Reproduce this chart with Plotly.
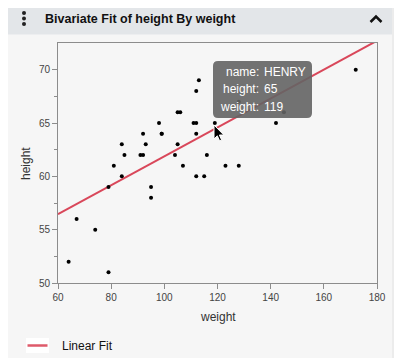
import numpy as np
import plotly.graph_objects as go

# ---- data (Big Class) ----
names = ["KATIE","LOUISE","JANE","JACLYN","LILLIE","TIM","JAMES","ROBERT","BARBARA","ALICE",
         "SUSAN","JOHN","JOE","MICHAEL","DAVID","JUDY","ELIZABETH","LESLIE","CAROL","PATTY",
         "FREDERICK","ALFRED","HENRY","LEWIS","EDWARD","CHRIS","JEFFREY","MARY","AMY","ROBERT",
         "WILLIAM","CLAY","MARK","DANNY","MARTHA","MARION","PHILLIP","LINDA","KIRK","LAWRENCE"]
height = [59,61,55,66,52,60,61,51,60,61,56,65,63,58,59,61,62,65,63,62,
          63,64,65,64,68,64,69,62,64,67,65,66,62,66,65,60,68,62,68,70]
weight = [95,123,74,145,64,84,128,79,112,107,67,98,105,95,79,81,91,142,84,85,
          93,99,119,92,112,99,113,92,112,128,111,105,104,106,112,115,128,116,134,172]
x_ticks = [60, 80, 100, 120, 140, 160, 180]
y_ticks = [50, 55, 60, 65, 70]
x_range = [60, 180]
y_range = [50, 72.5]
hover_name = "HENRY"
legend_label = "Linear Fit"
title_text = "Bivariate Fit of height By weight"

# ---- layout geometry (pixels in the 402x358 window) ----
OFF = 8  # default page body margin
W, H = 402 - OFF, 358 - OFF
L, R, T, B = 58, 377, 43, 283

def PX(x):
    return (x - L) / (R - L)

def PY(y):
    return (B - y) / (B - T)

FONT = "Liberation Sans"

slope, intercept = np.polyfit(weight, height, 1)
fit_x = np.array(x_range, dtype=float)
fit_y = intercept + slope * fit_x

fig = go.Figure()
fig.add_trace(go.Scatter(x=fit_x, y=fit_y, mode="lines",
                         line=dict(color="#d9475a", width=2), showlegend=False,
                         hoverinfo="skip"))
fig.add_trace(go.Scatter(x=weight, y=height, mode="markers",
                         marker=dict(color="black", size=4), showlegend=False,
                         text=names))

def rounded_rect(x0, y0, x1, y1, r, top_only=False):
    if top_only:
        s = (f"M {PX(x0)} {PY(y1)} L {PX(x0)} {PY(y0+r)} "
             f"Q {PX(x0)} {PY(y0)} {PX(x0+r)} {PY(y0)} "
             f"L {PX(x1-r)} {PY(y0)} Q {PX(x1)} {PY(y0)} {PX(x1)} {PY(y0+r)} "
             f"L {PX(x1)} {PY(y1)} Z")
    else:
        s = (f"M {PX(x0+r)} {PY(y0)} L {PX(x1-r)} {PY(y0)} "
             f"Q {PX(x1)} {PY(y0)} {PX(x1)} {PY(y0+r)} "
             f"L {PX(x1)} {PY(y1-r)} Q {PX(x1)} {PY(y1)} {PX(x1-r)} {PY(y1)} "
             f"L {PX(x0+r)} {PY(y1)} Q {PX(x0)} {PY(y1)} {PX(x0)} {PY(y1-r)} "
             f"L {PX(x0)} {PY(y0+r)} Q {PX(x0)} {PY(y0)} {PX(x0+r)} {PY(y0)} Z")
    return s

shapes = []
# card body
shapes.append(dict(type="path", xref="paper", yref="paper", layer="below",
                   path=rounded_rect(8, 3, 392, 362, 6, top_only=True),
                   fillcolor="#f6f6f6", line=dict(width=0)))
# card shadow right
shapes.append(dict(type="line", xref="paper", yref="paper", layer="below",
                   x0=PX(393), x1=PX(393), y0=PY(8), y1=PY(360),
                   line=dict(color="#ececec", width=2)))
# header
shapes.append(dict(type="path", xref="paper", yref="paper", layer="below",
                   path=rounded_rect(8, 3, 392, 34.5, 6, top_only=True),
                   fillcolor="#e3e6e9", line=dict(width=0)))
# kebab dots
for cy in (13, 18.5, 24):
    shapes.append(dict(type="circle", xref="paper", yref="paper", layer="above",
                       x0=PX(22), x1=PX(26), y0=PY(cy + 2), y1=PY(cy - 2),
                       fillcolor="#222222", line=dict(width=0)))
# caret
shapes.append(dict(type="path", xref="paper", yref="paper", layer="above",
                   path=f"M {PX(370.5)} {PY(22)} L {PX(376)} {PY(16.5)} L {PX(381.5)} {PY(22)}",
                   line=dict(color="#111111", width=2.5)))
# tooltip box
shapes.append(dict(type="path", xref="paper", yref="paper", layer="above",
                   path=rounded_rect(213, 61, 312, 118, 5),
                   fillcolor="rgba(100,100,100,0.9)", line=dict(width=0)))
# cursor arrow
cx, cy = 214, 125
pts = [(0, 0), (0, 14), (3.3, 10.8), (5.6, 15.8), (7.6, 14.9), (5.4, 10), (9.8, 10)]
cpath = "M " + " L ".join(f"{PX(cx+a)} {PY(cy+b)}" for a, b in pts) + " Z"
shapes.append(dict(type="path", xref="paper", yref="paper", layer="above",
                   path=cpath, fillcolor="black", line=dict(color="white", width=1)))
# legend box
shapes.append(dict(type="rect", xref="paper", yref="paper", layer="above",
                   x0=PX(26), x1=PX(49), y0=PY(353), y1=PY(338),
                   fillcolor="white", line=dict(width=0)))
shapes.append(dict(type="line", xref="paper", yref="paper", layer="above",
                   x0=PX(27.5), x1=PX(47.5), y0=PY(345.5), y1=PY(345.5),
                   line=dict(color="#de5a6a", width=2.5)))

annotations = []
annotations.append(dict(text=f"<b>{title_text}</b>", xref="paper", yref="paper",
                        x=PX(42.5), y=PY(18.5), xanchor="left", yanchor="middle",
                        showarrow=False, font=dict(family=FONT, size=12.5, color="#111111")))
annotations.append(dict(text="weight", xref="paper", yref="paper",
                        x=PX(217.5), y=PY(316.5), xanchor="center", yanchor="middle",
                        showarrow=False, font=dict(family=FONT, size=12, color="#333333")))
annotations.append(dict(text="height", xref="paper", yref="paper", textangle=-90,
                        x=PX(26), y=PY(164), xanchor="center", yanchor="middle",
                        showarrow=False, font=dict(family=FONT, size=12, color="#333333")))
annotations.append(dict(text=legend_label, xref="paper", yref="paper",
                        x=PX(59.5), y=PY(345.5), xanchor="left", yanchor="middle",
                        showarrow=False, font=dict(family=FONT, size=12, color="#111111")))
# tooltip text
hi = names.index(hover_name)
rows = [("name:", names[hi]), ("height:", str(height[hi])), ("weight:", str(weight[hi]))]
for i, (lab, val) in enumerate(rows):
    yy = 71.7 + i * 17.5
    annotations.append(dict(text=lab, xref="paper", yref="paper",
                            x=PX(260.5), y=PY(yy), xanchor="right", yanchor="middle",
                            showarrow=False, font=dict(family=FONT, size=12, color="white")))
    annotations.append(dict(text=val, xref="paper", yref="paper",
                            x=PX(261.5), y=PY(yy), xanchor="left", yanchor="middle",
                            showarrow=False, font=dict(family=FONT, size=12, color="white")))

axis_common = dict(showline=True, linecolor="#8c8c8c", linewidth=1, mirror=True,
                   showgrid=False, zeroline=False, ticks="outside", ticklen=5,
                   tickcolor="#8c8c8c", tickfont=dict(family=FONT, size=10, color="#444444"))

fig.update_layout(
    width=W, height=H,
    margin=dict(l=L - OFF, r=402 - R, t=T - OFF, b=358 - B, pad=0),
    paper_bgcolor="white", plot_bgcolor="white",
    font=dict(family=FONT),
    xaxis=dict(range=x_range, tickvals=x_ticks, **axis_common),
    yaxis=dict(range=y_range, tickvals=y_ticks,
               minor=dict(tickvals=[52.5, 57.5, 62.5, 67.5], ticks="outside", ticklen=3,
                          tickcolor="#8c8c8c"),
               **axis_common),
    shapes=shapes, annotations=annotations,
    showlegend=False,
)

fig.write_html("out.html")
